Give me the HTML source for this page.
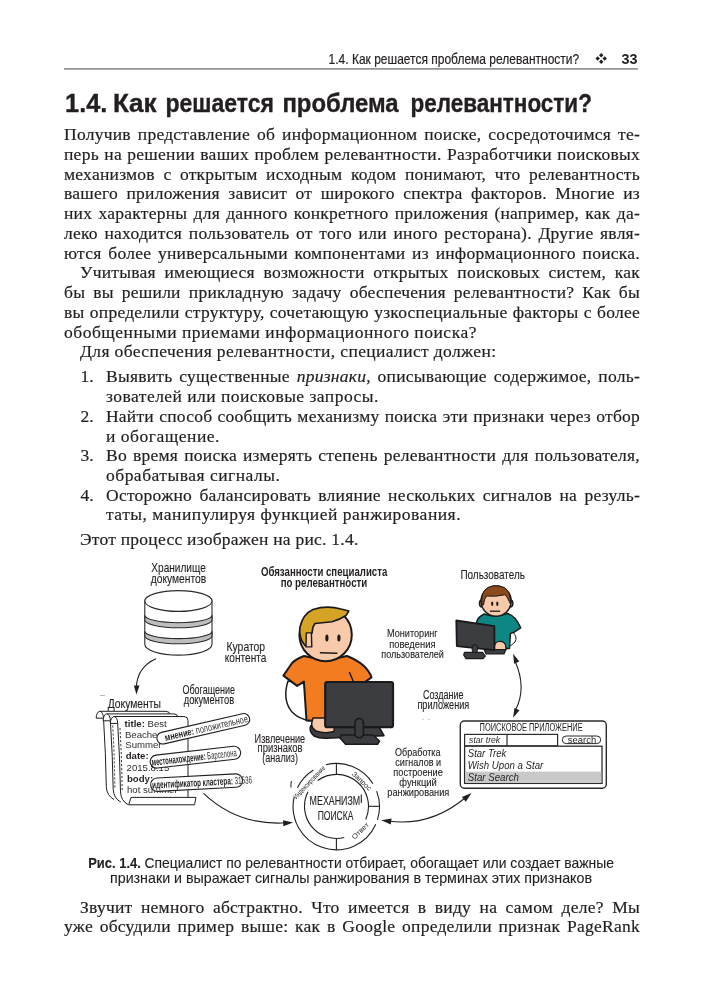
<!DOCTYPE html>
<html><head><meta charset="utf-8">
<style>
html,body{margin:0;padding:0;background:#fff;}
body{width:702px;height:1000px;position:relative;overflow:hidden;will-change:transform;}
.l{position:absolute;left:64px;width:576px;height:17px;font-family:"Liberation Serif",serif;font-size:17.5px;line-height:17px;color:#231f20;white-space:nowrap;letter-spacing:0.25px;-webkit-text-stroke:0.2px #231f20;}
.j{text-align:justify;text-align-last:justify;}
.i{left:80px;width:560px;}
.li{left:106px;width:534px;}
.n{position:absolute;left:80.5px;font-family:"Liberation Serif",serif;font-size:17.5px;line-height:17px;color:#231f20;-webkit-text-stroke:0.2px #231f20;}
svg{position:absolute;left:0;top:0;}
</style></head><body>
<svg width="702" height="1000" viewBox="0 0 702 1000" font-family="Liberation Sans, sans-serif">
  <!-- running header -->
  <text x="328.6" y="63.6" font-size="14.3" fill="#231f20" stroke="#231f20" stroke-width="0.2" textLength="250.6" lengthAdjust="spacingAndGlyphs">1.4. Как решается проблема релевантности?</text>
  <g fill="#231f20">
    <path d="M601.2 53.099999999999994l2.2 2.2-2.2 2.2-2.2-2.2z"/>
    <path d="M597.7 56.3l2.2 2.2-2.2 2.2-2.2-2.2z"/>
    <path d="M604.7 56.3l2.2 2.2-2.2 2.2-2.2-2.2z"/>
    <path d="M601.2 59.599999999999994l2.2 2.2-2.2 2.2-2.2-2.2z"/>
    </g>
  <text x="621.6" y="63.6" font-size="14.2" font-weight="bold" fill="#231f20" textLength="16" lengthAdjust="spacingAndGlyphs">33</text>
  <rect x="64" y="68.2" width="574" height="1.4" fill="#7a7a7a"/>
  <!-- heading -->
  <g font-size="25" font-weight="bold" fill="#231f20" stroke="#231f20" stroke-width="0.35">
    <text x="65.1" y="112.2" textLength="42.1" lengthAdjust="spacingAndGlyphs">1.4.</text>
    <text x="112.9" y="112.2" textLength="43.7" lengthAdjust="spacingAndGlyphs">Как</text>
    <text x="165.4" y="112.2" textLength="108.5" lengthAdjust="spacingAndGlyphs">решается</text>
    <text x="282.4" y="112.2" textLength="116.2" lengthAdjust="spacingAndGlyphs">проблема</text>
    <text x="410.5" y="112.2" textLength="181.4" lengthAdjust="spacingAndGlyphs">релевантности?</text>
  </g>


  <!-- caption -->
  <g font-size="14.6" fill="#231f20" stroke="#231f20" stroke-width="0.12">
    <text x="88.2" y="867.6" font-weight="bold" textLength="52.6" lengthAdjust="spacingAndGlyphs">Рис. 1.4.</text>
    <text x="144.5" y="867.6" textLength="469.5" lengthAdjust="spacingAndGlyphs">Специалист по релевантности отбирает, обогащает или создает важные</text>
    <text x="110" y="883.1" textLength="482" lengthAdjust="spacingAndGlyphs">признаки и выражает сигналы ранжирования в терминах этих признаков</text>
  </g>
  <!-- ============ FIGURE ============ -->
  <g id="fig" fill="#231f20">

  <!-- cylinder -->
  <g stroke="#2b2b2b" stroke-width="1.1" fill="#fff">
    <path d="M144.8 601 L144.8 644.3 A33.6 10.8 0 0 0 212 644.3 L212 601 Z"/>
    <path d="M144.8 615.3 A33.6 7.4 0 0 0 212 615.3 L212 619.8 A33.6 8 0 0 1 144.8 619.8 Z" fill="#bdbdbd"/>
    <path d="M144.8 631.2 A33.6 7.4 0 0 0 212 631.2 L212 635.8 A33.6 8 0 0 1 144.8 635.8 Z" fill="#bdbdbd"/>
    <ellipse cx="178.4" cy="601" rx="33.6" ry="10.4"/>
  </g>
  <!-- arrow cylinder -> docs -->
  <path d="M156 658.7 Q137 667 136.3 688" fill="none" stroke="#231f20" stroke-width="1.1"/>
  <path d="M136.4 694.5 L133.9 685.4 L139.5 685.6 Z" fill="#231f20"/>

  <!-- scrolls -->
  <g stroke="#231f20" stroke-width="1" fill="#fff">
    <path d="M99.8 711.3 L166.0 711.3 Q170.0 711.3 170.0 715.3 L170.0 792.3 L111.8 792.3 Q106.3 789.8 106.3 779.8 L103.5 718.2 Z" stroke="none"/>
    <path d="M99.8 711.3 L166.0 711.3 Q170.0 711.3 170.0 715.3 L170.0 792.3" fill="none"/>
    <path d="M103.5 718.2 Q105.8 754.8 106.3 786.8 Q106.8 795.8 114.0 799.5" fill="none"/>
    <path d="M96.2 718.2 A3.65 6.9 0 0 1 103.5 718.2 Z"/>
    <path d="M106.7 713.9 L174.0 713.9 Q178.0 713.9 178.0 717.9 L178.0 794.9 L118.7 794.9 Q113.2 792.4 113.2 782.4 L110.4 720.8 Z" stroke="none"/>
    <path d="M106.7 713.9 L174.0 713.9 Q178.0 713.9 178.0 717.9 L178.0 794.9" fill="none"/>
    <path d="M110.4 720.8 Q112.7 757.4 113.2 789.4 Q113.7 798.4 120.9 802.1" fill="none"/>
    <path d="M112.7 725.4 Q114.5 757.4 114.9 789.4" fill="none" stroke-dasharray="2.2 1.8" stroke-width="0.9"/>
    <path d="M103.1 720.8 A3.65 6.9 0 0 1 110.4 720.8 Z"/>
    <path d="M114.0 716.5 L184.0 716.5 Q188.0 716.5 188.0 720.5 L188.0 797.5 L126.0 797.5 Q120.5 795.0 120.5 785.0 L117.7 723.4 Z" stroke="none"/>
    <path d="M114.0 716.5 L184.0 716.5 Q188.0 716.5 188.0 720.5 L188.0 797.5" fill="none"/>
    <path d="M117.7 723.4 Q120.0 760.0 120.5 792.0 Q121.0 801.0 128.2 804.7" fill="none"/>
    <path d="M120.0 728.0 Q121.8 760.0 122.2 792.0" fill="none" stroke-dasharray="2.2 1.8" stroke-width="0.9"/>
    <path d="M110.4 723.4 A3.65 6.9 0 0 1 117.7 723.4 Z"/>
    <path d="M131 797.4 L196 797.4 L194.5 804.8 L128.7 804.8 Z"/>
  </g>
  <g font-size="9.6" fill="#2e2e2e">
    <text x="124.6" y="726.7"><tspan font-weight="bold" fill="#231f20">title:</tspan> Best</text>
    <text x="124.9" y="737.5">Beaches</text>
    <text x="125.3" y="748.3">Summer</text>
    <text x="125.7" y="759.2" font-weight="bold" fill="#231f20">date:</text>
    <text x="126.6" y="770.9">2015.8.15</text>
    <text x="127" y="781.7" font-weight="bold" fill="#231f20">body:</text>
    <text x="127" y="792.7">hot summer</text>
  </g>
  <!-- tags -->
  <g stroke="#231f20" stroke-width="1.1" fill="#fff">
    <g transform="translate(203.3 728.8) rotate(-13)">
      <rect x="-47.5" y="-5.9" width="95" height="11.8" rx="5.9"/>
      <text x="-39.5" y="3.4" font-size="10" stroke="none" fill="#231f20" textLength="85" lengthAdjust="spacingAndGlyphs"><tspan font-weight="bold">мнение:</tspan><tspan fill="#333"> положительное</tspan></text>
    </g>
    <g transform="translate(195.4 757.2) rotate(-6.5)">
      <rect x="-45.5" y="-6.5" width="91" height="13" rx="6.5"/>
      <text x="-44" y="3.6" font-size="10.5" stroke="none" fill="#231f20" textLength="85.5" lengthAdjust="spacingAndGlyphs"><tspan font-weight="bold">местонахождение:</tspan><tspan fill="#333"> Барселона</tspan></text>
    </g>
    <g transform="translate(196.6 782.6) rotate(-3)">
      <rect x="-46" y="-6.7" width="92" height="13.4" rx="6.7"/>
      <text x="-44.5" y="3.6" font-size="10.5" stroke="none" fill="#231f20" textLength="100" lengthAdjust="spacingAndGlyphs"><tspan font-weight="bold">идентификатор кластера:</tspan><tspan fill="#333"> 31536</tspan></text>
    </g>
  </g>
  <!-- arrow docs -> mechanism -->
  <path d="M203.5 793.4 Q238 826 286 822.8" fill="none" stroke="#231f20" stroke-width="1.1"/>
  <path d="M293.2 822.6 L283.4 826.3 L283.0 820.3 Z" fill="#231f20"/>

  <!-- specialist -->
  <g stroke="#1a1a1a" stroke-width="2" stroke-linejoin="round" stroke-linecap="round">
    <path d="M288 681 Q282 700 292 712 Q299 719 310 721 L306 684 Z" fill="#fff" stroke-width="1.5"/>
    <path d="M304 656 Q293 660 290 666 L283.4 675.6 L297.1 685.9 L303.9 681.6 L306.5 720.5 L345 720.5 L360 690 L365.5 681.6 L371.5 677.4 Q367 664 347 656 Q326 662 304 656 Z" fill="#f47c20"/>
    <path d="M349.5 672.5 L353.5 682" fill="none" stroke-width="1.5"/>
    <ellipse cx="325.6" cy="634.7" rx="26.2" ry="26.6" fill="#f8caa9"/>
    <path d="M305 645.5 Q298.5 638 300 627 Q303 614 313 609.5 Q327 605 341 609 L348.8 611 L346 615.5 Q340 619.5 332 621.8 Q322 622.8 315 623.5 L313 627 L312 633 L309 637 L308 646 Z" fill="#d5a424" stroke-width="1.6"/>
    <path d="M306.3 632.9 L311.4 632.9 L311.8 646.9 L306 646.9 Z" fill="#f8caa9" stroke-width="1.4"/>
    <ellipse cx="326.9" cy="637.9" rx="1.6" ry="3.5" fill="#1a1a1a" stroke="none"/>
    <ellipse cx="338.9" cy="637.9" rx="1.6" ry="3.5" fill="#1a1a1a" stroke="none"/>
    <path d="M320.4 652.8 L336.9 653.3" fill="none" stroke-width="1.4"/>
    <path d="M310.7 725.7 Q308.5 731 314 736 Q319 738.5 326 738.3 L384 735.6 L379 727 Z" fill="#3c3d40" stroke-width="1.6"/>
    <path d="M312.5 720 Q309.5 727 316 731 Q325 734 334 731.5 L335 718 L313 718 Z" fill="#f8caa9" stroke-width="1.5"/>
    <path d="M341.3 735 L373 735 L379.5 741 L377.5 744.3 L345.6 744.3 L340 738 Z" fill="#3c3d40" stroke-width="1.6"/>
    <rect x="325.2" y="682" width="67.8" height="45.2" rx="2" fill="#3c3d40" stroke-width="2.2"/>
    <rect x="355" y="718.5" width="8.4" height="19.3" rx="4.2" fill="#3c3d40" stroke-width="1.6"/>
  </g>
  <!-- user -->
  <g stroke="#1a1a1a" stroke-width="1.5" stroke-linejoin="round">
    <path d="M512.5 631.8 Q518 637 515 642 Q511 647 505.5 647" fill="none" stroke-width="1"/>
    <path d="M484.2 614 Q478 617 476.8 621.5 L474 640 L500 648.5 L509.5 648.5 L510.4 633.5 L513.8 632.4 L520.7 627.9 Q515 615 507 613.6 Q496 618 484.2 614 Z" fill="#0e8784"/>
    <ellipse cx="481.9" cy="603.4" rx="2.4" ry="3.4" fill="#f8caa9"/>
    <ellipse cx="510.4" cy="603.4" rx="2.4" ry="3.4" fill="#f8caa9"/>
    <circle cx="496.1" cy="601.1" r="15.1" fill="#f8caa9"/>
    <path d="M482 605 Q480 592 488 587.5 Q496 584 504 587.5 Q511 591 510.5 604 L509.3 601.6 Q507 596 504.7 594.8 Q496 597 486.5 596 Q484 599 483.5 605 Z" fill="#8a4a1b" stroke-width="1"/>
    <ellipse cx="492.2" cy="603.7" rx="1.1" ry="2.2" fill="#1a1a1a" stroke="none"/>
    <ellipse cx="497.3" cy="603.7" rx="1.1" ry="2.2" fill="#1a1a1a" stroke="none"/>
    <path d="M489.9 611.2 L500.1 611.2" fill="none" stroke-width="1.3"/>
    <path d="M494.5 650 Q493.5 642.5 498.5 641.5 Q504 640.8 505.5 645 L506 650 Z" fill="#f8caa9" stroke-width="1.2"/>
    <path d="M484.2 649.5 L505.8 649.5 L504 654 L486 654 Z" fill="#3c3d40" stroke-width="1.2"/>
    <path d="M464.5 652.4 L482.5 652.4 L485.3 656 L483 658.6 L466 658.6 L463.7 655 Z" fill="#3c3d40" stroke-width="1.2"/>
    <path d="M456.3 620.5 L494.4 626.2 L494.4 650.1 L456.8 646.1 Z" fill="#3c3d40" stroke-width="1.8"/>
    <rect x="472.2" y="644.4" width="5.2" height="8.5" rx="2.6" fill="#3c3d40" stroke-width="1"/>
  </g>
  <!-- double arrow user <-> app -->
  <path d="M515 661 Q527 688 515.5 710" fill="none" stroke="#231f20" stroke-width="1.1"/>
  <path d="M513.1 653.8 L519.3 661.6 L514.1 663.7 Z" fill="#231f20"/>
  <path d="M513.1 717.8 L514.4 708.0 L519.5 710.3 Z" fill="#231f20"/>
  <!-- search app box -->
  <g stroke="#2b2b2b" fill="#fff">
    <rect x="460.3" y="721" width="146" height="67.2" rx="4" stroke-width="1.4"/>
    <rect x="464.6" y="734.4" width="93" height="11.4" stroke-width="1.2"/>
    <line x1="507" y1="734.4" x2="507" y2="745.8" stroke-width="1.2"/>
    <rect x="562.3" y="736" width="38.4" height="7.6" rx="3.8" stroke-width="1"/>
    <rect x="464.6" y="746.2" width="137.4" height="37.2" stroke-width="1.3"/>
    <rect x="465.3" y="771.6" width="136" height="11.2" fill="#c9c9c9" stroke="none"/>
  </g>
  <g fill="#231f20">
    <text x="479.6" y="731.4" font-size="10" textLength="103" lengthAdjust="spacingAndGlyphs">ПОИСКОВОЕ ПРИЛОЖЕНИЕ</text>
    <text x="469.1" y="743.3" font-size="9" font-style="italic" textLength="31" lengthAdjust="spacingAndGlyphs">star trek</text>
    <text x="567.8" y="742.6" font-size="8.5" textLength="28.5" lengthAdjust="spacingAndGlyphs">search</text>
    <text x="467.8" y="757.2" font-size="11" font-style="italic" textLength="38.4" lengthAdjust="spacingAndGlyphs">Star Trek</text>
    <text x="467.8" y="769.2" font-size="11" font-style="italic" textLength="75.5" lengthAdjust="spacingAndGlyphs">Wish Upon a Star</text>
    <text x="467.8" y="781.1" font-size="11" font-style="italic" textLength="51.1" lengthAdjust="spacingAndGlyphs">Star Search</text>
  </g>
  <!-- double arrow app <-> mechanism -->
  <path d="M465 798 Q430 827 388 821" fill="none" stroke="#231f20" stroke-width="1.1"/>
  <path d="M471.5 793.0 L465.8 801.7 L461.9 797.1 Z" fill="#231f20"/>
  <path d="M381.3 820.2 L391.6 818.6 L390.8 824.6 Z" fill="#231f20"/>
  <!-- mechanism -->
  <g fill="none" stroke="#231f20" stroke-width="1.1">
    <path d="M375.77 824.17 A43.2 43.2 0 0 1 294.21 796.88 M297.47 787.66 A43.2 43.2 0 0 1 313.41 769.96 M325.85 764.68 A43.2 43.2 0 0 1 372.94 783.71 M376.63 791.12 A43.2 43.2 0 0 1 377.39 819.95 M344.24 837.45 A32 32 0 0 1 307.99 791.87 M317.69 780.51 A32 32 0 0 1 365.73 819.42"/>
    <line x1="336.4" y1="763.4" x2="336.4" y2="774.4"/>
    <line x1="368.5" y1="806.3" x2="379.5" y2="806.3"/>
    <line x1="336.4" y1="838.4" x2="336.4" y2="849.8"/>
    <line x1="361.3" y1="794.6" x2="361.3" y2="803"/>
  </g>
  <g font-size="7" fill="#231f20">
    <text transform="translate(296.2 799.4) rotate(-46.5)" textLength="43" lengthAdjust="spacingAndGlyphs">Индексирование</text>
    <text transform="translate(351.6 774.4) rotate(44)" textLength="24" lengthAdjust="spacingAndGlyphs">Запрос</text>
    <text transform="translate(354.4 839.8) rotate(-44)" textLength="21" lengthAdjust="spacingAndGlyphs">Ответ</text>
  </g>
  <g font-size="12" fill="#231f20" stroke="#231f20" stroke-width="0.12">
    <text x="309.6" y="805.1" textLength="50.6" lengthAdjust="spacingAndGlyphs">МЕХАНИЗМ</text>
    <text x="317.7" y="819.5" textLength="35.7" lengthAdjust="spacingAndGlyphs">ПОИСКА</text>
  </g>
  <!-- faint artifacts -->
  <g fill="#b5b5b5">
    <rect x="100" y="695" width="5" height="1" />
    <circle cx="423" cy="719.5" r="0.7"/>
    <circle cx="428.8" cy="719.5" r="0.7"/>
  </g>
  <path d="M291.4 781 Q290.6 784 291 787.5" fill="none" stroke="#231f20" stroke-width="1"/>
  <!-- labels -->
  <g stroke="#231f20" stroke-width="0.12">
    <text x="151.3" y="572.4" font-size="13.4" textLength="54.5" lengthAdjust="spacingAndGlyphs">Хранилище</text>
    <text x="150.7" y="583.0" font-size="13.4" textLength="55.6" lengthAdjust="spacingAndGlyphs">документов</text>
    <text x="226.5" y="650.9" font-size="13.0" textLength="38.6" lengthAdjust="spacingAndGlyphs">Куратор</text>
    <text x="224.8" y="662.3" font-size="13.0" textLength="41.6" lengthAdjust="spacingAndGlyphs">контента</text>
    <text x="107.7" y="707.9" font-size="13.2" textLength="53.3" lengthAdjust="spacingAndGlyphs">Документы</text>
    <text x="182.4" y="693.8" font-size="12.6" textLength="52.6" lengthAdjust="spacingAndGlyphs">Обогащение</text>
    <text x="183.7" y="703.8" font-size="12.6" textLength="50.5" lengthAdjust="spacingAndGlyphs">документов</text>
    <text x="460.4" y="578.7" font-size="13.0" textLength="64.5" lengthAdjust="spacingAndGlyphs">Пользователь</text>
    <text x="387.1" y="637.3" font-size="11.3" textLength="50.5" lengthAdjust="spacingAndGlyphs">Мониторинг</text>
    <text x="389.2" y="647.6" font-size="11.3" textLength="46.3" lengthAdjust="spacingAndGlyphs">поведения</text>
    <text x="381.3" y="657.6" font-size="11.3" textLength="62.6" lengthAdjust="spacingAndGlyphs">пользователей</text>
    <text x="422.9" y="699.4" font-size="11.9" textLength="40.6" lengthAdjust="spacingAndGlyphs">Создание</text>
    <text x="417.4" y="709.4" font-size="11.9" textLength="51.9" lengthAdjust="spacingAndGlyphs">приложения</text>
    <text x="254.6" y="742.6" font-size="12.3" textLength="50.6" lengthAdjust="spacingAndGlyphs">Извлечение</text>
    <text x="257.6" y="752.4" font-size="12.3" textLength="45.0" lengthAdjust="spacingAndGlyphs">признаков</text>
    <text x="262.3" y="762.3" font-size="12.3" textLength="35.6" lengthAdjust="spacingAndGlyphs">(анализ)</text>
    <text x="395.0" y="755.7" font-size="11.3" textLength="45.5" lengthAdjust="spacingAndGlyphs">Обработка</text>
    <text x="395.3" y="765.9" font-size="11.3" textLength="45.8" lengthAdjust="spacingAndGlyphs">сигналов и</text>
    <text x="393.3" y="776.2" font-size="11.3" textLength="49.5" lengthAdjust="spacingAndGlyphs">построение</text>
    <text x="399.3" y="786.4" font-size="11.3" textLength="37.5" lengthAdjust="spacingAndGlyphs">функций</text>
    <text x="387.3" y="796.3" font-size="11.3" textLength="62.0" lengthAdjust="spacingAndGlyphs">ранжирования</text>
  </g>
  <g font-size="12" font-weight="bold">
    <text x="260.9" y="576" textLength="126.4" lengthAdjust="spacingAndGlyphs">Обязанности специалиста</text>
    <text x="280.7" y="586.7" textLength="86.5" lengthAdjust="spacingAndGlyphs">по релевантности</text>
  </g>
  </g>
</svg>

<div class="l j" style="top:126.20px">Получив представление об информационном поиске, сосредоточимся те-</div>
<div class="l j" style="top:145.95px">перь на решении ваших проблем релевантности. Разработчики поисковых</div>
<div class="l j" style="top:165.70px">механизмов с открытым исходным кодом понимают, что релевантность</div>
<div class="l j" style="top:185.45px">вашего приложения зависит от широкого спектра факторов. Многие из</div>
<div class="l j" style="top:205.20px">них характерны для данного конкретного приложения (например, как да-</div>
<div class="l j" style="top:224.95px">леко находится пользователь от того или иного ресторана). Другие явля-</div>
<div class="l j" style="top:244.70px">ются более универсальными компонентами из информационного поиска.</div>
<div class="l j i" style="top:264.45px">Учитывая имеющиеся возможности открытых поисковых систем, как</div>
<div class="l j" style="top:284.20px">бы вы решили прикладную задачу обеспечения релевантности? Как бы</div>
<div class="l j" style="top:303.95px">вы определили структуру, сочетающую узкоспециальные факторы с более</div>
<div class="l" style="top:323.70px;letter-spacing:0.51px">обобщенными приемами информационного поиска?</div>
<div class="l i" style="top:343.45px;letter-spacing:0.37px">Для обеспечения релевантности, специалист должен:</div>

<div class="n" style="top:368.40px">1.</div>
<div class="l j li" style="top:368.40px">Выявить существенные <i>признаки</i>, описывающие содержимое, поль-</div>
<div class="l li" style="top:388.10px;letter-spacing:0.47px">зователей или поисковые запросы.</div>
<div class="n" style="top:407.80px">2.</div>
<div class="l j li" style="top:407.80px;letter-spacing:0.22px">Найти способ сообщить механизму поиска эти признаки через отбор</div>
<div class="l li" style="top:427.50px;letter-spacing:0.52px">и обогащение.</div>
<div class="n" style="top:447.20px">3.</div>
<div class="l j li" style="top:447.20px">Во время поиска измерять степень релевантности для пользователя,</div>
<div class="l li" style="top:466.90px;letter-spacing:0.49px">обрабатывая сигналы.</div>
<div class="n" style="top:486.60px">4.</div>
<div class="l j li" style="top:486.60px">Осторожно балансировать влияние нескольких сигналов на резуль-</div>
<div class="l li" style="top:506.30px;letter-spacing:0.5px">таты, манипулируя функцией ранжирования.</div>
<div class="l i" style="top:530.80px;letter-spacing:0.245px">Этот процесс изображен на рис. 1.4.</div>

<div class="l j i" style="top:898.50px">Звучит немного абстрактно. Что имеется в виду на самом деле? Мы</div>
<div class="l j" style="top:917.90px">уже обсудили пример выше: как в Google определили признак PageRank</div>

</body></html>
